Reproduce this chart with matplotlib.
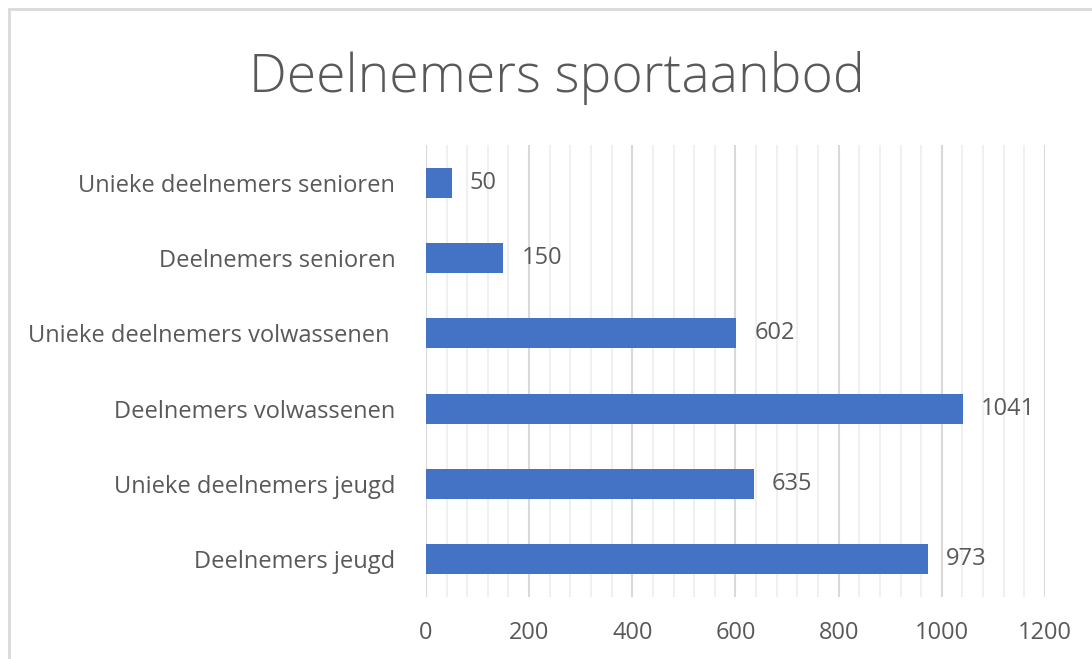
import matplotlib.pyplot as plt
from matplotlib.patches import Rectangle
from matplotlib.ticker import MultipleLocator

# Data (van onder naar boven)
categorieen = ['Deelnemers jeugd', 'Unieke deelnemers jeugd', 'Deelnemers volwassenen',
               'Unieke deelnemers volwassenen ', 'Deelnemers senioren',
               'Unieke deelnemers senioren']
aantallen = [973, 635, 1041, 602, 150, 50]
xticks = [0, 200, 400, 600, 800, 1000, 1200]

plt.rcParams['font.family'] = ['Open Sans', 'DejaVu Sans']
tekstkleur = '#595959'

fig = plt.figure(figsize=(10.92, 6.59), dpi=100)
ax = fig.add_axes([0.390, 0.094, 0.567, 0.686])

y = range(len(categorieen))
ax.barh(y, aantallen, height=0.4, color='#4472C4', zorder=3)

for yi, v in zip(y, aantallen):
    ax.annotate(str(v), xy=(v, yi), xytext=(13, 0), textcoords='offset points',
                va='center', ha='left', fontsize=17, color=tekstkleur)

ax.set_xlim(0, 1200)
ax.set_ylim(-0.5, len(categorieen) - 0.5)
ax.set_xticks(xticks)
ax.set_xticklabels([str(t) for t in xticks])
ax.xaxis.set_minor_locator(MultipleLocator(40))
ax.set_yticks(list(y))
ax.set_yticklabels(categorieen)

ax.grid(True, axis='x', which='major', color='#D9D9D9', linewidth=1.5, zorder=0)
ax.grid(True, axis='x', which='minor', color='#F0F0F0', linewidth=1.5, zorder=0)
ax.set_axisbelow(True)

for s in ax.spines.values():
    s.set_visible(False)
ax.tick_params(axis='both', which='both', length=0, labelsize=17, colors=tekstkleur)
ax.tick_params(axis='x', pad=17)
ax.tick_params(axis='y', pad=22)

fig.text(0.51, 0.882, 'Deelnemers sportaanbod', ha='center', va='center',
         fontsize=38.5, fontweight='light', color=tekstkleur)

# rand om de grafiek
fig.patches.append(Rectangle((9 / 1092, -0.05), 1.1, 1 - 9 / 659 + 0.05,
                             transform=fig.transFigure, fill=False,
                             edgecolor='#D9D9D9', linewidth=2))

plt.savefig('out.png', dpi=100, facecolor='white')
